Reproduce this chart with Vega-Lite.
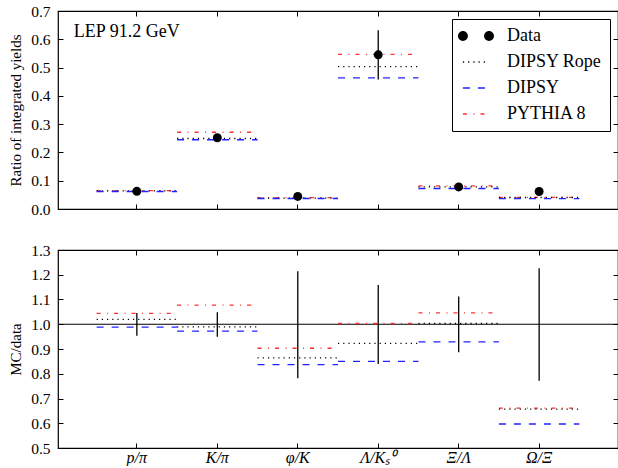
{
  "$schema": "https://vega.github.io/schema/vega-lite/v6.json",
  "autosize": {"type": "pad"},
  "padding": {"left": 8, "top": 3, "right": 0, "bottom": 0},
  "config": {
    "view": {"stroke": "black", "strokeWidth": 1.2},
    "font": "Liberation Serif",
    "axis": {
      "domain": false, "grid": false, "tickColor": "black", "tickSize": -5, "tickWidth": 1,
      "labelFont": "Liberation Serif", "labelFontSize": 15.5, "labelColor": "black",
      "titleFont": "Liberation Serif", "titleFontSize": 15, "titleFontWeight": "normal", "titleColor": "black"
    }
  },
  "datasets": {
    "yields": [
      {"cat": "p/π", "series": "Data", "v": 0.0625, "lo": 0.0597, "hi": 0.0653},
      {"cat": "K/π", "series": "Data", "v": 0.252, "lo": 0.2395, "hi": 0.264},
      {"cat": "φ/K", "series": "Data", "v": 0.0445, "lo": 0.0348, "hi": 0.054},
      {"cat": "Λ/Kₛ⁰", "series": "Data", "v": 0.545, "lo": 0.458, "hi": 0.632},
      {"cat": "Ξ/Λ", "series": "Data", "v": 0.078, "lo": 0.069, "hi": 0.0868},
      {"cat": "Ω/Ξ", "series": "Data", "v": 0.062, "lo": 0.048, "hi": 0.076},
      {"cat": "p/π", "series": "PYTHIA 8", "v": 0.0653},
      {"cat": "p/π", "series": "DIPSY Rope", "v": 0.0638},
      {"cat": "p/π", "series": "DIPSY", "v": 0.0618},
      {"cat": "K/π", "series": "PYTHIA 8", "v": 0.2714},
      {"cat": "K/π", "series": "DIPSY Rope", "v": 0.2492},
      {"cat": "K/π", "series": "DIPSY", "v": 0.2449},
      {"cat": "φ/K", "series": "PYTHIA 8", "v": 0.0402},
      {"cat": "φ/K", "series": "DIPSY Rope", "v": 0.0384},
      {"cat": "φ/K", "series": "DIPSY", "v": 0.0372},
      {"cat": "Λ/Kₛ⁰", "series": "PYTHIA 8", "v": 0.5466},
      {"cat": "Λ/Kₛ⁰", "series": "DIPSY Rope", "v": 0.503},
      {"cat": "Λ/Kₛ⁰", "series": "DIPSY", "v": 0.4633},
      {"cat": "Ξ/Λ", "series": "PYTHIA 8", "v": 0.0816},
      {"cat": "Ξ/Λ", "series": "DIPSY Rope", "v": 0.0782},
      {"cat": "Ξ/Λ", "series": "DIPSY", "v": 0.0725},
      {"cat": "Ω/Ξ", "series": "PYTHIA 8", "v": 0.041},
      {"cat": "Ω/Ξ", "series": "DIPSY Rope", "v": 0.0407},
      {"cat": "Ω/Ξ", "series": "DIPSY", "v": 0.037}
    ],
    "ratios": [
      {"cat": "p/π", "series": "Data", "v": 1, "lo": 0.954, "hi": 1.045},
      {"cat": "K/π", "series": "Data", "v": 1, "lo": 0.949, "hi": 1.048},
      {"cat": "φ/K", "series": "Data", "v": 1, "lo": 0.782, "hi": 1.214},
      {"cat": "Λ/Kₛ⁰", "series": "Data", "v": 1, "lo": 0.839, "hi": 1.159},
      {"cat": "Ξ/Λ", "series": "Data", "v": 1, "lo": 0.887, "hi": 1.112},
      {"cat": "Ω/Ξ", "series": "Data", "v": 1, "lo": 0.772, "hi": 1.226},
      {"cat": "p/π", "series": "PYTHIA 8", "v": 1.044},
      {"cat": "p/π", "series": "DIPSY Rope", "v": 1.02},
      {"cat": "p/π", "series": "DIPSY", "v": 0.988},
      {"cat": "K/π", "series": "PYTHIA 8", "v": 1.077},
      {"cat": "K/π", "series": "DIPSY Rope", "v": 0.989},
      {"cat": "K/π", "series": "DIPSY", "v": 0.972},
      {"cat": "φ/K", "series": "PYTHIA 8", "v": 0.903},
      {"cat": "φ/K", "series": "DIPSY Rope", "v": 0.864},
      {"cat": "φ/K", "series": "DIPSY", "v": 0.837},
      {"cat": "Λ/Kₛ⁰", "series": "PYTHIA 8", "v": 1.003},
      {"cat": "Λ/Kₛ⁰", "series": "DIPSY Rope", "v": 0.923},
      {"cat": "Λ/Kₛ⁰", "series": "DIPSY", "v": 0.85},
      {"cat": "Ξ/Λ", "series": "PYTHIA 8", "v": 1.046},
      {"cat": "Ξ/Λ", "series": "DIPSY Rope", "v": 1.003},
      {"cat": "Ξ/Λ", "series": "DIPSY", "v": 0.929},
      {"cat": "Ω/Ξ", "series": "PYTHIA 8", "v": 0.661},
      {"cat": "Ω/Ξ", "series": "DIPSY Rope", "v": 0.657},
      {"cat": "Ω/Ξ", "series": "DIPSY", "v": 0.597}
    ]
  },
  "spacing": 23,
  "vconcat": [
    {
      "width": 560, "height": 198,
      "data": {"name": "yields"},
      "layer": [
        {
          "transform": [{"filter": "datum.series !== 'Data'"}],
          "mark": {"type": "rule", "strokeWidth": 1.3},
          "encoding": {
            "x": {"field": "cat", "type": "nominal", "bandPosition": 0,
              "scale": {"domain": ["p/π", "K/π", "φ/K", "Λ/Kₛ⁰", "Ξ/Λ", "Ω/Ξ"], "paddingInner": 0, "paddingOuter": 0.48},
              "axis": {"orient": "bottom", "labels": false, "title": null}},
            "x2": {"field": "cat", "bandPosition": 1},
            "y": {"field": "v", "type": "quantitative",
              "scale": {"domain": [0, 0.7], "nice": false, "zero": false},
              "axis": {"orient": "left", "values": [0, 0.1, 0.2, 0.3, 0.4, 0.5, 0.6, 0.7], "format": ".1f", "title": "Ratio of integrated yields", "labelPadding": 13, "titlePadding": 7}},
            "color": {"field": "series", "type": "nominal",
              "scale": {"domain": ["Data", "DIPSY Rope", "DIPSY", "PYTHIA 8"], "range": ["black", "black", "#2222ff", "#ff3030"]},
              "legend": {
                "title": null, "orient": "top-right", "offset": 8, "padding": 8, "rowPadding": 8,
                "strokeColor": "black", "fillColor": "white", "cornerRadius": 0,
                "symbolSize": 484, "symbolStrokeWidth": 1.3, "labelFont": "Liberation Serif", "labelFontSize": 18, "labelColor": "black", "labelOffset": 29,
                "encode": {"symbols": {"update": {
                  "shape": {"signal": "datum.value === 'Data' ? 'M-1,0a0.45,0.45 0 1,0 0.9,0a0.45,0.45 0 1,0 -0.9,0Z M1.37,0a0.45,0.45 0 1,0 0.9,0a0.45,0.45 0 1,0 -0.9,0Z' : 'M-0.55,0H1.55'"},
                  "fill": {"signal": "datum.value === 'Data' ? 'black' : 'transparent'"},
                  "stroke": {"signal": "datum.value === 'DIPSY' ? '#2222ff' : datum.value === 'PYTHIA 8' ? '#ff3030' : 'black'"},
                  "strokeDash": {"signal": "datum.value === 'DIPSY Rope' ? [1.2,4] : datum.value === 'DIPSY' ? [7,8] : datum.value === 'PYTHIA 8' ? [4,6.5,1,6] : [1,0]"},
                  "strokeWidth": {"signal": "datum.value === 'Data' ? 0 : 1.3"},
                  "opacity": {"value": 1}
                }}}
              }},
            "strokeDash": {"field": "series", "type": "nominal",
              "scale": {"domain": ["DIPSY Rope", "DIPSY", "PYTHIA 8"], "range": [[1.2, 4], [7, 8], [4, 6.5, 1, 6]]},
              "legend": null}
          }
        },
        {
          "transform": [{"filter": "datum.series === 'Data'"}],
          "mark": {"type": "rule", "strokeWidth": 1.3, "color": "black"},
          "encoding": {
            "x": {"field": "cat", "type": "nominal", "axis": null},
            "y": {"field": "lo", "type": "quantitative", "axis": null},
            "y2": {"field": "hi"}
          }
        },
        {
          "transform": [{"filter": "datum.series === 'Data'"}],
          "mark": {"type": "point", "filled": true, "opacity": 1, "size": 80},
          "encoding": {
            "x": {"field": "cat", "type": "nominal", "axis": {"orient": "top", "labels": false, "title": null}},
            "y": {"field": "v", "type": "quantitative", "axis": {"orient": "right", "labels": false, "title": null, "values": [0, 0.1, 0.2, 0.3, 0.4, 0.5, 0.6, 0.7]}},
            "color": {"field": "series", "type": "nominal"}
          }
        },
        {
          "data": {"values": [{"label": "LEP 91.2 GeV", "cat": "p/π", "y": 0.626}]},
          "mark": {"type": "text", "align": "left", "baseline": "middle", "fontSize": 18, "dx": -63, "font": "Liberation Serif", "color": "black"},
          "encoding": {
            "x": {"field": "cat", "type": "nominal", "axis": null},
            "y": {"field": "y", "type": "quantitative", "axis": null},
            "text": {"field": "label"}
          }
        }
      ],
      "resolve": {"axis": {"x": "independent", "y": "independent"}}
    },
    {
      "width": 560, "height": 198,
      "data": {"name": "ratios"},
      "layer": [
        {
          "data": {"values": [{"ref": 1}]},
          "mark": {"type": "rule", "color": "black", "strokeWidth": 1},
          "encoding": {"y": {"field": "ref", "type": "quantitative", "axis": null}}
        },
        {
          "transform": [{"filter": "datum.series !== 'Data'"}],
          "mark": {"type": "rule", "strokeWidth": 1.3},
          "encoding": {
            "x": {"field": "cat", "type": "nominal", "bandPosition": 0,
              "scale": {"domain": ["p/π", "K/π", "φ/K", "Λ/Kₛ⁰", "Ξ/Λ", "Ω/Ξ"], "paddingInner": 0, "paddingOuter": 0.48},
              "axis": {"orient": "bottom", "title": null, "labelAngle": 0, "labelFontStyle": "italic", "labelFontSize": 16, "labelPadding": 6}},
            "x2": {"field": "cat", "bandPosition": 1},
            "y": {"field": "v", "type": "quantitative",
              "scale": {"domain": [0.5, 1.3], "nice": false, "zero": false},
              "axis": {"orient": "left", "values": [0.5, 0.6, 0.7, 0.8, 0.9, 1.0, 1.1, 1.2, 1.3], "format": ".1f", "title": "MC/data", "labelPadding": 13, "titlePadding": 7}},
            "color": {"field": "series", "type": "nominal",
              "scale": {"domain": ["Data", "DIPSY Rope", "DIPSY", "PYTHIA 8"], "range": ["black", "black", "#2222ff", "#ff3030"]},
              "legend": null},
            "strokeDash": {"field": "series", "type": "nominal",
              "scale": {"domain": ["DIPSY Rope", "DIPSY", "PYTHIA 8"], "range": [[1.2, 4], [7, 8], [4, 6.5, 1, 6]]},
              "legend": null}
          }
        },
        {
          "transform": [{"filter": "datum.series === 'Data'"}],
          "mark": {"type": "rule", "strokeWidth": 1.3, "color": "black"},
          "encoding": {
            "x": {"field": "cat", "type": "nominal", "axis": {"orient": "top", "labels": false, "title": null}},
            "y": {"field": "lo", "type": "quantitative", "axis": {"orient": "right", "labels": false, "title": null, "values": [0.5, 0.6, 0.7, 0.8, 0.9, 1.0, 1.1, 1.2, 1.3]}},
            "y2": {"field": "hi"}
          }
        }
      ],
      "resolve": {"axis": {"x": "independent", "y": "independent"}}
    }
  ],
  "resolve": {"scale": {"color": "independent", "strokeDash": "independent"}, "legend": {"color": "independent", "strokeDash": "independent"}}
}
